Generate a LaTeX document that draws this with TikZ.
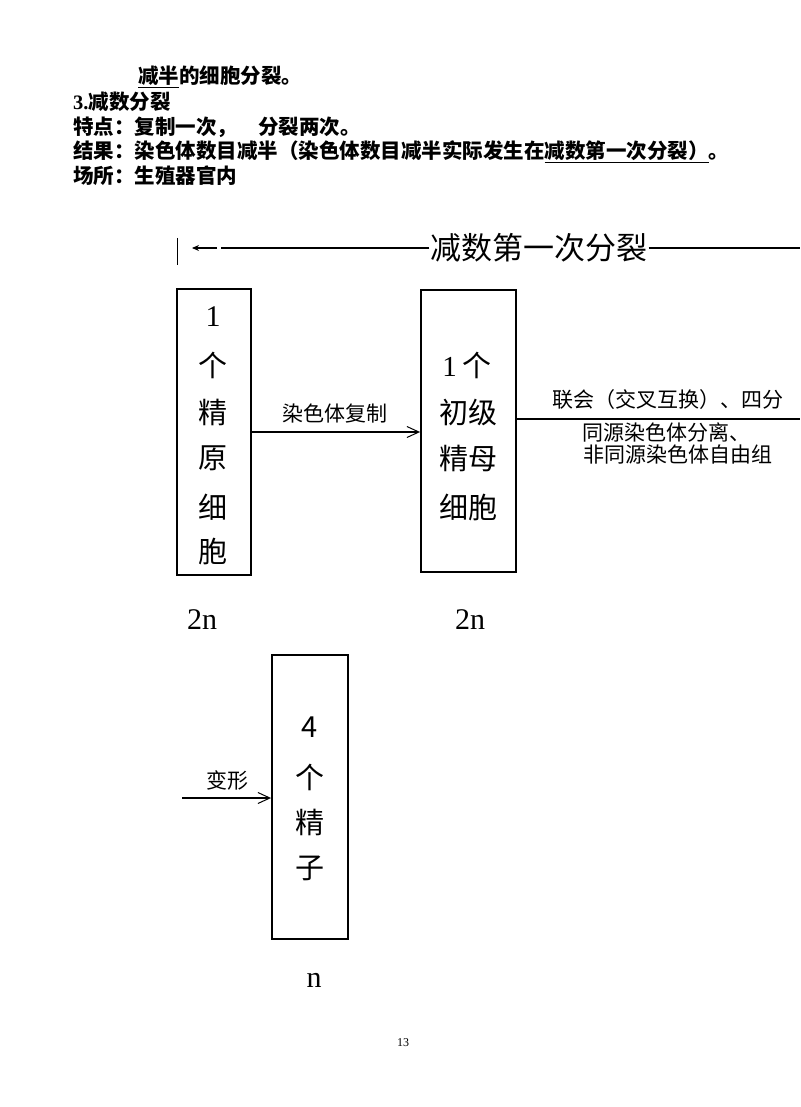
\documentclass[tikz,border=0pt]{standalone}
\usepackage{fontspec}
\setmainfont{Liberation Serif}
\newfontfamily\cjk{Noto Sans CJK SC}
\usetikzlibrary{arrows.meta}
\begin{document}
\begin{tikzpicture}[x=1pt,y=-1pt,
  box/.style={draw,line width=1.8pt,inner sep=0pt},
  conn/.style={line width=1.1pt},
  arr/.style={conn,-{Straight Barb[length=12pt,width=11pt,line width=1pt]}},
  hdr/.style={anchor=west,inner sep=0pt,font=\cjk\bfseries\fontsize{20.5}{24}\selectfont},
  lbl/.style={inner sep=0pt,font=\cjk\fontsize{21}{24}\selectfont},
  lblw/.style={lbl,anchor=west},
  big/.style={inner sep=0pt,font=\cjk\fontsize{29}{32}\selectfont},
  num/.style={inner sep=0pt,font=\fontsize{30}{34}\selectfont}]
\fill[white] (0,0) rectangle (800,1107);
\useasboundingbox (0,0) rectangle (800,1107);

% header text
\node[hdr] (h1) at (138,77) {\underline{减半}的细胞分裂。};
\node[hdr] (h2) at (73,102) {{\rmfamily 3.}减数分裂};
\node[hdr] (h3) at (73,127) {特点：复制一次，\hspace{21pt}分裂两次。};
\node[hdr] (h4) at (73,152) {结果：染色体数目减半（染色体数目减半实际发生在\underline{减数第一次分裂）}。};
\node[hdr] (h5) at (73,176) {场所：生殖器官内};

% top span arrow
\coordinate (bar1) at (177,238);
\coordinate (bar2) at (177,265);
\coordinate (ah1) at (217,248);
\coordinate (ah2) at (192,248);
\coordinate (tl) at (221,248);
\coordinate (tr) at (800,248);
\node[inner sep=1pt,font=\cjk\fontsize{31}{34}\selectfont] (t) at (539,248) {减数第一次分裂};
\draw[line width=0.9pt] (bar1) -- (bar2);
\draw[conn,-{Stealth[length=7pt,width=6pt]}] (ah1) -- (ah2);
\draw[conn] (t.west) -- (tl);
\draw[conn] (t.east) -- (tr);

% boxes
\node[box,minimum width=74pt,minimum height=286pt] (b1) at (214,432) {};
\node[box,minimum width=95pt,minimum height=282pt] (b2) at (468.5,431) {};
\node[box,minimum width=76pt,minimum height=284pt] (b3) at (310,797) {};

% box 1 text
\node[num] (b1a) at (213,317) {1};
\node[big] (b1b) at (213,365) {个};
\node[big] (b1c) at (213,412) {精};
\node[big] (b1d) at (213,458) {原};
\node[big] (b1e) at (213,507) {细};
\node[big] (b1f) at (213,552) {胞};

% box 2 text
\node[big] (b2a) at (467,365) {{\rmfamily 1}\hspace{6pt}个};
\node[big] (b2b) at (468,412) {初级};
\node[big] (b2c) at (468,458) {精母};
\node[big] (b2d) at (468,507) {细胞};

% box 3 text
\node[big] (b3a) at (310,727) {4};
\node[big] (b3b) at (310,777) {个};
\node[big] (b3c) at (310,822) {精};
\node[big] (b3d) at (310,868) {子};

% ploidy labels
\node[num] (p1) at (202,620) {2n};
\node[num] (p2) at (470,620) {2n};
\node[num] (p3) at (314,980) {n};

% connectors
\draw[arr] (b1.east) -- (b1.east -| b2.west);
\node[lbl] (l1) at (335,413) {染色体复制};

\coordinate (r1) at (800,419);
\draw[conn] (b2.east |- r1) -- (r1);
\node[lblw] (l2) at (552,400) {联会（交叉互换）、四分};
\node[lblw] (l3) at (582,432) {同源染色体分离、};
\node[lblw] (l4) at (583,455) {非同源染色体自由组};

\coordinate (s3) at (182,798);
\draw[arr] (s3) -- (s3 -| b3.west);
\node[lbl] (l5) at (227,780) {变形};

% page number
\node[inner sep=0pt,font=\fontsize{12}{14}\selectfont] (pg) at (403,1043) {13};
\end{tikzpicture}
\end{document}
